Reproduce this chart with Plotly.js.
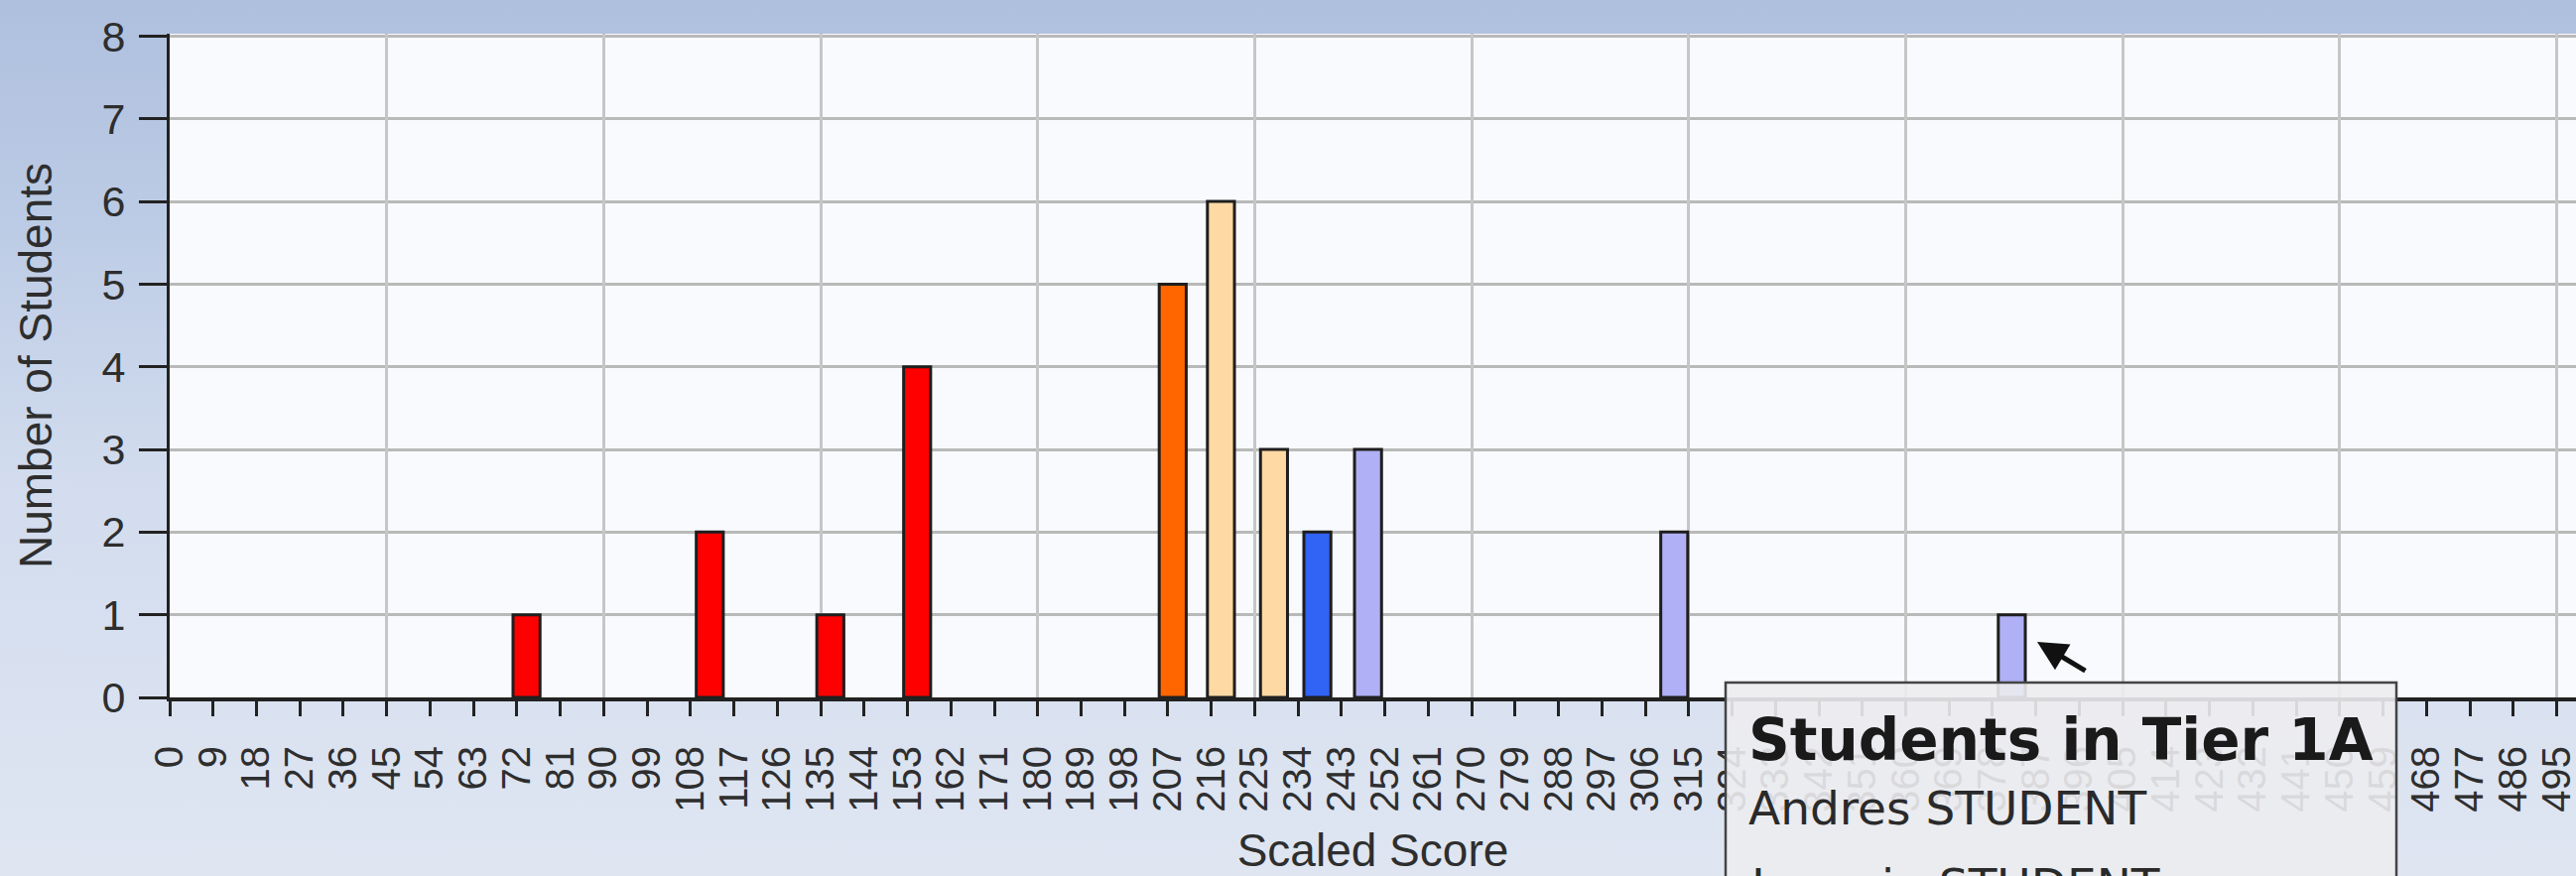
<!DOCTYPE html>
<html>
<head>
<meta charset="utf-8">
<script src="https://cdn.plot.ly/plotly-3.0.1.min.js"></script>
<style>
  html, body { margin: 0; padding: 0; width: 2596px; height: 883px; overflow: hidden; }
  body { background: linear-gradient(to bottom, #aec0de 0%, #bccbe5 25%, #d2dcee 55%, #dfe6f2 100%); }
  #chart { width: 2596px; height: 883px; }
</style>
</head>
<body>
<div id="chart"></div>
<script>
// ---- data ----
const scores = [74, 112, 137, 155, 208, 218, 229, 238, 248.5, 312, 382];
const counts = [1, 2, 1, 4, 5, 6, 3, 2, 3, 2, 1];
const bands  = ['red', 'red', 'red', 'red', 'orange', 'peach', 'peach', 'blue', 'lavender', 'lavender', 'lavender'];

const xTitle = 'Scaled Score';
const yTitle = 'Number of Students';
const tipTitle = 'Students in Tier 1A';
const tipNames = ['Andres STUDENT', 'Joaquin STUDENT'];

// ---- styling ----
const palette = { red: '#ff0000', orange: '#ff6600', peach: '#ffd9a3', blue: '#3163f5', lavender: '#b0b0f6' };

const W = 2596, H = 883;
const M = { l: 171, r: 0, t: 34, b: 180 };
const plotW = W - M.l - M.r, plotH = H - M.t - M.b;
const px = v => (v - M.l) / plotW;          // page px -> paper x
const py = v => (H - M.b - v) / plotH;      // page px -> paper y

const bars = {
  type: 'bar',
  x: scores,
  y: counts,
  width: 5.6,
  marker: { color: bands.map(b => palette[b]), line: { color: '#1e1e1e', width: 3 } },
  hoverinfo: 'x+y'
};

// empty trace so that the overlaid grid axis (every 45 points) is drawn
const gridCarrier = { type: 'scatter', x: [], y: [], xaxis: 'x2', yaxis: 'y', hoverinfo: 'skip', showlegend: false };

const axisFont = { family: 'Liberation Sans, Arial, sans-serif', color: '#2e2e2e' };

const layout = {
  width: W, height: H,
  margin: M,
  paper_bgcolor: 'rgba(0,0,0,0)',
  plot_bgcolor: '#f8fafd',
  showlegend: false,
  bargap: 0,
  xaxis: {
    range: [0, 499],
    tickmode: 'linear', tick0: 0, dtick: 9,
    tickangle: -90,
    ticks: 'outside', ticklen: 15, tickwidth: 3, tickcolor: '#222222',
    ticklabelstandoff: 14,
    ticklabeloverflow: 'allow',
    tickfont: Object.assign({ size: 40 }, axisFont),
    showgrid: false, zeroline: false,
    showline: true, linecolor: '#222222', linewidth: 4,
    title: { text: xTitle, font: Object.assign({ size: 46 }, axisFont), standoff: 36 },
    automargin: false, fixedrange: true
  },
  xaxis2: {
    overlaying: 'x', anchor: 'y',
    range: [0, 499],
    tickmode: 'linear', tick0: 0, dtick: 45,
    showticklabels: false, ticks: '',
    showgrid: true, gridcolor: '#c6c6c6', gridwidth: 3,
    showline: false, zeroline: false, fixedrange: true
  },
  yaxis: {
    range: [0, 8.03],
    tickmode: 'linear', tick0: 0, dtick: 1,
    ticks: 'outside', ticklen: 28, tickwidth: 3, tickcolor: '#222222',
    ticklabelstandoff: 5,
    tickfont: Object.assign({ size: 43 }, axisFont),
    showgrid: true, gridcolor: '#b9b9b9', gridwidth: 3,
    zeroline: false,
    showline: true, linecolor: '#222222', linewidth: 3,
    title: { text: yTitle, font: Object.assign({ size: 46 }, axisFont), standoff: 36 },
    automargin: false, fixedrange: true
  },
  shapes: [
    {
      type: 'rect', xref: 'paper', yref: 'paper', layer: 'above',
      x0: px(1739), x1: px(2415), y0: py(688), y1: py(1000),
      fillcolor: 'rgba(236,236,240,0.9)',
      line: { color: '#444444', width: 2.5 }
    }
  ],
  annotations: [
    {
      xref: 'paper', yref: 'paper', x: px(1760), y: py(746),
      xanchor: 'left', yanchor: 'middle', showarrow: false,
      text: '<b>' + tipTitle + '</b>',
      font: { family: 'DejaVu Sans, Verdana, sans-serif', size: 58, color: '#1a1a1a' }
    },
    {
      xref: 'paper', yref: 'paper', x: px(1760), y: py(815),
      xanchor: 'left', yanchor: 'middle', showarrow: false,
      text: tipNames[0],
      font: { family: 'DejaVu Sans, Verdana, sans-serif', size: 47, color: '#2a2a2a' }
    },
    {
      xref: 'paper', yref: 'paper', x: px(1760), y: py(892),
      xanchor: 'left', yanchor: 'middle', showarrow: false,
      text: tipNames[1],
      font: { family: 'DejaVu Sans, Verdana, sans-serif', size: 47, color: '#2a2a2a' }
    },
    {
      xref: 'paper', yref: 'paper', x: px(2053), y: py(647),
      showarrow: true, text: '', ax: 50, ay: 30,
      arrowhead: 2, arrowsize: 1.2, arrowwidth: 5, arrowcolor: '#111111'
    }
  ]
};

Plotly.newPlot('chart', [gridCarrier, bars], layout, { displayModeBar: false, staticPlot: true });
</script>
</body>
</html>
